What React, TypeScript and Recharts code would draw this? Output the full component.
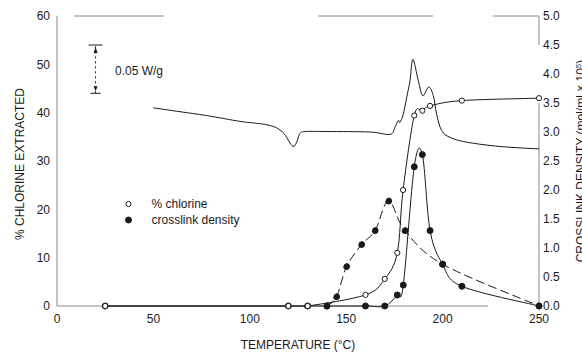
import React from 'react';
import { ComposedChart, Line, XAxis, YAxis, ReferenceLine, ReferenceDot } from 'recharts';

// % chlorine extracted vs temperature (°C)
const chlorineTemps = [25, 120, 130, 160, 170, 176.5, 179.5, 185.3, 189.5, 193.5, 210, 250];
const chlorineValues = [0, 0, 0, 2.3, 5.6, 11, 24, 39.4, 40.4, 41.4, 42.5, 43];

// crosslink density (mol/ml x 10^5), solid curve
const crosslinkTemps = [25, 120, 130, 140, 160, 170, 176.5, 179.6, 185.3, 189.5, 193.5, 200, 210, 250];
const crosslinkValues = [0, 0, 0, 0, 0, 0, 0.19, 0.36, 2.4, 2.61, 1.3, 0.72, 0.34, 0];

// crosslink density, dashed curve
const crosslinkDashTemps = [140, 145, 150.2, 158, 165, 172, 180.5, 200, 250];
const crosslinkDashValues = [0, 0.16, 0.68, 1.06, 1.3, 1.81, 1.3, 0.72, 0];

// DSC heat flow (W/g) trace
const dscTemps = [
  50, 63.8, 77.6, 94.9, 103.6, 108.8, 113.1, 115.7, 117.7, 119.1, 120.9, 122.9, 124.6, 126, 128.6,
  139.9, 162.3, 172.7, 175.3, 177, 177.9, 179.6, 181.4, 183.1, 184.6, 187.4, 189.7, 192.8, 195.2,
  196.9, 199.5, 203.8, 212.5, 229.8, 250,
];
const dscValues = [
  0.205, 0.201, 0.197, 0.191, 0.189, 0.1875, 0.185, 0.182, 0.1785, 0.1745, 0.1685, 0.165, 0.171, 0.1785,
  0.1805, 0.1805, 0.18, 0.1775, 0.185, 0.192, 0.19, 0.1985, 0.216, 0.233, 0.255, 0.233, 0.2175, 0.2265,
  0.2175, 0.1985, 0.1815, 0.1745, 0.1695, 0.165, 0.1625,
];

const xTicks = [0, 50, 100, 150, 200, 250];
const leftTicks = [0, 10, 20, 30, 40, 50, 60];
const rightTicks = [0, 0.5, 1, 1.5, 2, 2.5, 3, 3.5, 4, 4.5, 5];

// heat-flow scale bar
const scaleBarTemp = 20;
const scaleBarBase = 0.22;
const scaleBarSize = 0.05;
const scaleBarLabel = '0.05 W/g';

const legendItems = [
  { label: '% chlorine', filled: false },
  { label: 'crosslink density', filled: true },
];

const xLabel = 'TEMPERATURE (°C)';
const leftLabel = '% CHLORINE EXTRACTED';

const toPoints = (xs: number[], ys: number[]) => xs.map((t, i) => ({ t, v: ys[i] }));
const chlorineData = toPoints(chlorineTemps, chlorineValues);
const crosslinkData = toPoints(crosslinkTemps, crosslinkValues);
const crosslinkDashData = toPoints(crosslinkDashTemps, crosslinkDashValues);
const dscData = toPoints(dscTemps, dscValues);

// Catmull-Rom spline through every point
const catmullRom = (context: any) => {
  let pts: [number, number][] = [];
  return {
    areaStart() {},
    areaEnd() {},
    lineStart() {
      pts = [];
    },
    lineEnd() {
      if (!pts.length) return;
      context.moveTo(pts[0][0], pts[0][1]);
      for (let i = 0; i < pts.length - 1; i++) {
        const p0 = pts[i - 1] || pts[i];
        const p1 = pts[i];
        const p2 = pts[i + 1];
        const p3 = pts[i + 2] || p2;
        const k = 1 / 6;
        context.bezierCurveTo(
          p1[0] + (p2[0] - p0[0]) * k,
          p1[1] + (p2[1] - p0[1]) * k,
          p2[0] - (p3[0] - p1[0]) * k,
          p2[1] - (p3[1] - p1[1]) * k,
          p2[0],
          p2[1],
        );
      }
    },
    point(x: number, y: number) {
      pts.push([+x, +y]);
    },
  };
};

const FONT = '"Liberation Sans", Arial, Helvetica, sans-serif';
const INK = '#1a1a1a';
const FRAME = '#8a8a8a';
const tickStyle = { fill: INK, fontSize: 12, fontFamily: FONT };

const openDot = { r: 2.6, fill: '#fff', stroke: INK, strokeWidth: 1 };
const filledDot = { r: 3, fill: INK, stroke: INK, strokeWidth: 1 };

const arrowUp = (p: any) => (
  <path d={`M${p.cx},${p.cy + 2} L${p.cx - 2},${p.cy + 8} L${p.cx + 2},${p.cy + 8} Z`} fill={INK} />
);
const arrowDown = (p: any) => (
  <path d={`M${p.cx},${p.cy - 2} L${p.cx - 2},${p.cy - 7} L${p.cx + 2},${p.cy - 7} Z`} fill={INK} />
);

export default function App() {
  return (
    <div style={{ position: 'absolute', left: 0, top: 0, width: 582, height: 352, background: '#fff' }}>
      <ComposedChart width={582} height={352} margin={{ top: 16, right: 0, bottom: 0, left: 0 }}>
        <XAxis
          dataKey="t"
          type="number"
          domain={[0, 250]}
          ticks={xTicks}
          axisLine={false}
          tickLine={false}
          tickSize={0}
          tickMargin={8}
          height={46}
          tick={tickStyle}
        />
        <YAxis
          yAxisId="left"
          domain={[0, 60]}
          ticks={leftTicks}
          axisLine={false}
          tickLine={false}
          tickSize={0}
          tickMargin={7}
          width={57}
          tick={tickStyle}
        />
        <YAxis
          yAxisId="right"
          orientation="right"
          domain={[0, 5]}
          ticks={rightTicks}
          tickFormatter={(v: number) => v.toFixed(1)}
          axisLine={false}
          tickLine={false}
          tickSize={0}
          tickMargin={4}
          width={43}
          tick={tickStyle}
        />
        <YAxis yAxisId="dsc" hide width={0} domain={[0, 0.3]} />

        {/* frame pieces */}
        <ReferenceLine yAxisId="left" segment={[{ x: 0, y: 0 }, { x: 0, y: 60 }]} stroke={FRAME} />
        <ReferenceLine yAxisId="left" segment={[{ x: 0, y: 0 }, { x: 223.5, y: 0 }]} stroke={FRAME} />
        <ReferenceLine yAxisId="left" segment={[{ x: 8.8, y: 60 }, { x: 55.5, y: 60 }]} stroke={FRAME} />
        <ReferenceLine yAxisId="left" segment={[{ x: 135.4, y: 60 }, { x: 195, y: 60 }]} stroke={FRAME} />
        <ReferenceLine yAxisId="left" segment={[{ x: 226, y: 60 }, { x: 250, y: 60 }]} stroke={FRAME} />
        <ReferenceLine yAxisId="left" segment={[{ x: 250, y: 54 }, { x: 250, y: 60 }]} stroke={FRAME} />
        <ReferenceLine yAxisId="left" segment={[{ x: 250, y: 0 }, { x: 250, y: 42 }]} stroke={FRAME} />

        {/* heat-flow scale bar */}
        <ReferenceLine
          yAxisId="dsc"
          segment={[{ x: scaleBarTemp, y: scaleBarBase }, { x: scaleBarTemp, y: scaleBarBase + scaleBarSize }]}
          stroke={INK}
          strokeDasharray="2 3"
        />
        <ReferenceLine
          yAxisId="dsc"
          segment={[{ x: scaleBarTemp - 3.6, y: scaleBarBase + scaleBarSize }, { x: scaleBarTemp + 3.6, y: scaleBarBase + scaleBarSize }]}
          stroke={INK}
        />
        <ReferenceLine
          yAxisId="dsc"
          segment={[{ x: scaleBarTemp - 2.6, y: scaleBarBase }, { x: scaleBarTemp + 2.6, y: scaleBarBase }]}
          stroke={INK}
        />
        <ReferenceDot yAxisId="dsc" x={scaleBarTemp} y={scaleBarBase + scaleBarSize} shape={arrowUp} />
        <ReferenceDot yAxisId="dsc" x={scaleBarTemp} y={scaleBarBase} shape={arrowDown} />

        <Line
          yAxisId="dsc"
          data={dscData}
          dataKey="v"
          type={catmullRom as any}
          stroke={INK}
          strokeWidth={1}
          dot={false}
          isAnimationActive={false}
        />
        <Line
          yAxisId="right"
          data={crosslinkDashData}
          dataKey="v"
          type={catmullRom as any}
          stroke={INK}
          strokeWidth={1}
          strokeDasharray="9 4"
          dot={filledDot}
          isAnimationActive={false}
        />
        <Line
          yAxisId="right"
          data={crosslinkData}
          dataKey="v"
          type={catmullRom as any}
          stroke={INK}
          strokeWidth={1}
          dot={filledDot}
          isAnimationActive={false}
        />
        <Line
          yAxisId="left"
          data={chlorineData}
          dataKey="v"
          type={catmullRom as any}
          stroke={INK}
          strokeWidth={1}
          dot={openDot}
          isAnimationActive={false}
        />
      </ComposedChart>

      <svg
        width={582}
        height={352}
        style={{ position: 'absolute', left: 0, top: 0, pointerEvents: 'none' }}
        fontFamily={FONT}
        fill={INK}
      >
        <text x={115} y={75} fontSize={12}>
          {scaleBarLabel}
        </text>
        {legendItems.map((item, i) => (
          <g key={item.label}>
            <circle
              cx={128.5}
              cy={204 + i * 16}
              r={item.filled ? 3 : 2.6}
              fill={item.filled ? INK : '#fff'}
              stroke={INK}
              strokeWidth={1}
            />
            <text x={151.5} y={208 + i * 15.5} fontSize={12}>
              {item.label}
            </text>
          </g>
        ))}
        <text x={298} y={349} fontSize={12} textAnchor="middle">
          {xLabel}
        </text>
        <text x={0} y={0} fontSize={12} textAnchor="middle" transform="translate(24,164) rotate(-90)">
          {leftLabel}
        </text>
        <text x={0} y={0} fontSize={12} textAnchor="middle" transform="translate(585,161) rotate(-90)">
          CROSSLINK DENSITY (mol/ml × 10
          <tspan dy={-4} fontSize={8}>
            5
          </tspan>
          <tspan dy={4}>)</tspan>
        </text>
      </svg>
    </div>
  );
}
